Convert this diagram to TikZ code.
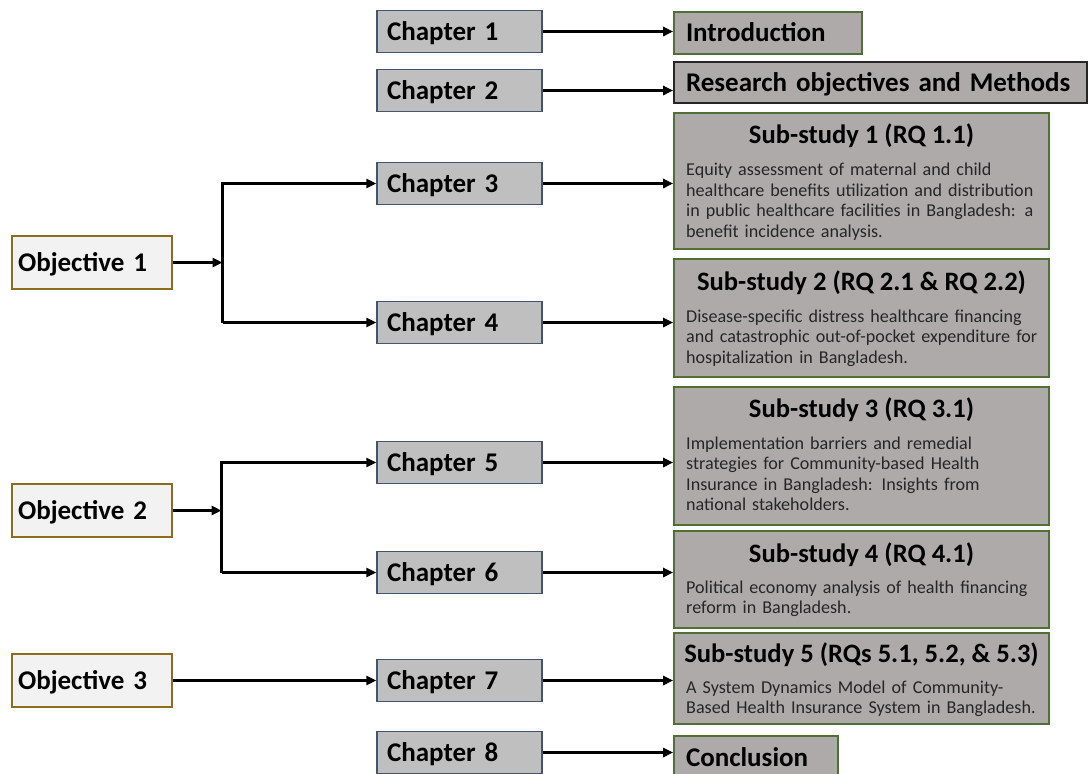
\documentclass[tikz,border=0pt]{standalone}
\usepackage{fontspec}
\setmainfont{Carlito}
\usetikzlibrary{arrows.meta}
\definecolor{chapfill}{HTML}{BFBFBF}
\definecolor{chapdraw}{HTML}{44546A}
\definecolor{subfill}{HTML}{AEAAAA}
\definecolor{subdraw}{HTML}{507035}
\definecolor{resdraw}{HTML}{262626}
\definecolor{objfill}{HTML}{F2F2F2}
\definecolor{objdraw}{HTML}{8C6D1F}
\definecolor{bodytext}{HTML}{262626}
\begin{document}
\begin{tikzpicture}[x=1pt,y=-1pt,
  bigfont/.style={font=\bfseries\fontsize{27}{32}\selectfont},
  chapbox/.style={bigfont, draw=chapdraw, fill=chapfill, line width=1.4pt,
    minimum height=42pt, text width=145pt, inner xsep=10pt, inner ysep=0pt,
    text height=17.5pt, text depth=0pt, align=left},
  objbox/.style={bigfont, draw=objdraw, fill=objfill, line width=1.3pt,
    minimum height=53pt, text width=148pt, inner xsep=6pt, inner ysep=0pt,
    text height=17.5pt, text depth=0pt, align=left},
  resbox/.style={bigfont, fill=subfill, line width=1.6pt, inner xsep=12pt, inner ysep=0pt,
    text height=17.5pt, text depth=0pt, align=left},
  subbox/.style={draw=subdraw, fill=subfill, line width=1.6pt, minimum width=375pt, inner sep=0pt},
  subtitle/.style={font=\bfseries\fontsize{26.6}{32}\selectfont, inner sep=0pt},
  subbody/.style={font=\fontsize{18.1}{20.5}\selectfont, text=bodytext, text width=360pt,
    inner sep=0pt, align=left},
  arr/.style={line width=3pt, -{Triangle[length=10pt,width=9pt]}}
]
\useasboundingbox (0,0) rectangle (1088,774);

% objectives
\node[objbox] (obj1) at (92,262.5) {Objective 1};
\node[objbox] (obj2) at (92,510.5) {Objective 2};
\node[objbox] (obj3) at (92,680.5) {Objective 3};

% chapters
\node[chapbox] (ch1) at (459.5,31.5) {Chapter 1};
\node[chapbox] (ch2) at (459.5,90.5) {Chapter 2};
\node[chapbox] (ch3) at (459.5,183.5) {Chapter 3};
\node[chapbox] (ch4) at (459.5,322.5) {Chapter 4};
\node[chapbox] (ch5) at (459.5,462.5) {Chapter 5};
\node[chapbox] (ch6) at (459.5,572.5) {Chapter 6};
\node[chapbox] (ch7) at (459.5,680.5) {Chapter 7};
\node[chapbox] (ch8) at (459.5,752.5) {Chapter 8};

% right column
\node[resbox, draw=subdraw, minimum height=42pt, text width=164pt] (intro) at (768,33) {Introduction};
\node[resbox, draw=resdraw, minimum height=41pt, text width=389pt] (res) at (880.5,82.5) {Research objectives and Methods};

\node[subbox, minimum height=136pt] (s1) at (861.5,181) {};
\node[subtitle, anchor=base] (t1) at (861.5,143) {Sub-study 1 (RQ 1.1)};
\node[subbody, anchor=base west] (b1) at (686,175.5) {Equity assessment of maternal and child\\healthcare benefits utilization and distribution\\in public healthcare facilities in Bangladesh: a\\benefit incidence analysis.};

\node[subbox, minimum height=118pt] (s2) at (861.5,318) {};
\node[subtitle, anchor=base] (t2) at (861.5,290) {Sub-study 2 (RQ 2.1 \& RQ 2.2)};
\node[subbody, anchor=base west] (b2) at (686,322) {Disease-specific distress healthcare financing\\and catastrophic out-of-pocket expenditure for\\hospitalization in Bangladesh.};

\node[subbox, minimum height=138pt] (s3) at (861.5,456) {};
\node[subtitle, anchor=base] (t3) at (861.5,417) {Sub-study 3 (RQ 3.1)};
\node[subbody, anchor=base west] (b3) at (686,449) {Implementation barriers and remedial\\strategies for Community-based Health\\Insurance in Bangladesh: Insights from\\national stakeholders.};

\node[subbox, minimum height=97pt] (s4) at (861.5,579.5) {};
\node[subtitle, anchor=base] (t4) at (861.5,562) {Sub-study 4 (RQ 4.1)};
\node[subbody, anchor=base west] (b4) at (686,593) {Political economy analysis of health financing\\reform in Bangladesh.};

\node[subbox, minimum height=91pt] (s5) at (861.5,678.5) {};
\node[subtitle, anchor=base] (t5) at (861.5,662.5) {Sub-study 5 (RQs 5.1, 5.2, \& 5.3)};
\node[subbody, anchor=base west] (b5) at (686,693) {A System Dynamics Model of Community-\\Based Health Insurance System in Bangladesh.};

\node[resbox, draw=subdraw, minimum height=44pt, text width=140pt] (conc) at (756,758) {Conclusion};

% bracket junctions
\coordinate (j1t) at (222.5,183.5);
\coordinate (j1b) at (222.5,322.5);
\coordinate (j2t) at (221.5,462.5);
\coordinate (j2b) at (221.5,572.5);

\draw[arr] (obj1.east) -- (obj1.east -| j1t);
\draw[arr] (j1b) -- (j1t) -- (ch3.west);
\draw[arr] (j1b) -- (ch4.west);

\draw[arr] (obj2.east) -- (obj2.east -| j2t);
\draw[arr] (j2b) -- (j2t) -- (ch5.west);
\draw[arr] (j2b) -- (ch6.west);

\draw[arr] (obj3.east) -- (obj3.east -| ch7.west);

% chapter to content
\draw[arr] (ch1.east) -- (ch1.east -| intro.west);
\draw[arr] (ch2.east) -- (ch2.east -| res.west);
\draw[arr] (ch3.east) -- (ch3.east -| s1.west);
\draw[arr] (ch4.east) -- (ch4.east -| s2.west);
\draw[arr] (ch5.east) -- (ch5.east -| s3.west);
\draw[arr] (ch6.east) -- (ch6.east -| s4.west);
\draw[arr] (ch7.east) -- (ch7.east -| s5.west);
\draw[arr] (ch8.east) -- (ch8.east -| conc.west);
\end{tikzpicture}
\end{document}
